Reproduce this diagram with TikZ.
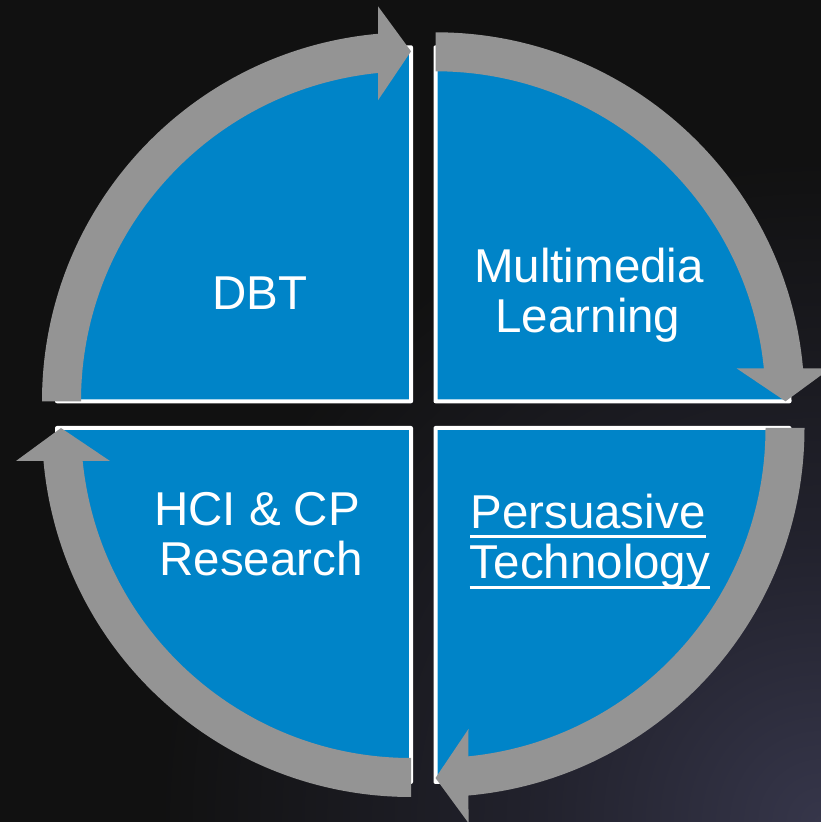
\documentclass[tikz,border=0pt]{standalone}
\usepackage{fontspec}
\setmainfont{Liberation Sans}

\definecolor{sectorblue}{RGB}{0,132,200}
\definecolor{ringgrey}{RGB}{148,148,148}
\definecolor{bgdark}{RGB}{17,17,17}
\definecolor{bgmid}{RGB}{34,34,45}
\definecolor{bgglow}{RGB}{54,54,74}

% soft glow rising from the lower right corner of the backdrop
\pgfdeclareradialshading{cornerglow}{\pgfpoint{0bp}{0bp}}{%
  color(0bp)=(bgglow); color(280bp)=(bgmid); color(660bp)=(bgdark); color(720bp)=(bgdark)}

\tikzset{
  sector/.style={fill=sectorblue, draw=white, line width=4pt, line join=round},
  sectortext/.style={text=white, font=\fontsize{47.5}{50}\selectfont, inner sep=0pt, anchor=base},
  underlinerule/.style={draw=white, line width=3pt},
  % grey curved arrow running a quarter turn clockwise round a sector corner
  quarterarrow/.pic={
    \fill[ringgrey] (180:369pt) arc[start angle=180, end angle=95.13, radius=369pt]
      -- (-33pt,395pt) -- (0pt,350pt) -- (-33pt,301pt)
      -- (95.72:330pt) arc[start angle=95.72, end angle=180, radius=330pt] -- cycle;
  }
}

\begin{document}
\begin{tikzpicture}[x=1pt,y=1pt]
\useasboundingbox (0,0) rectangle (821,822);
\begin{scope}
  \clip (0,0) rectangle (821,822);
  \fill[bgdark] (0,0) rectangle (821,822);
  \node[inner sep=0pt] (glow) at (821,0) {\pgfuseshading{cornerglow}};

  % corners of the four quarter sectors
  \coordinate (tl) at (411,420.7);
  \coordinate (tr) at (435.5,420.7);
  \coordinate (br) at (435.5,394);
  \coordinate (bl) at (411,394);

  \path[sector] (tl) -- ++(-354,0) arc[start angle=180, end angle=90, radius=354pt] -- cycle;
  \path[sector] (tr) -- ++(0,354) arc[start angle=90, end angle=0, radius=354pt] -- cycle;
  \path[sector] (br) -- ++(354,0) arc[start angle=0, end angle=-90, radius=354pt] -- cycle;
  \path[sector] (bl) -- ++(0,-354) arc[start angle=-90, end angle=-180, radius=354pt] -- cycle;

  \pic at (tl) {quarterarrow};
  \pic[rotate=-90] at (tr) {quarterarrow};
  \pic[rotate=-180] at (br) {quarterarrow};
  \pic[rotate=90] at (bl) {quarterarrow};

  \node[sectortext] (dbt) at (260,512) {DBT};
  \node[sectortext] (mm1) at (589,539) {Multimedia};
  \node[sectortext] (mm2) at (588,489) {Learning};
  \node[sectortext] (hci1) at (257,296) {HCI \& CP};
  \node[sectortext] (hci2) at (261,246) {Research};
  \node[sectortext] (pt1) at (588,293) {Persuasive};
  \node[sectortext] (pt2) at (590,243) {Technology};

  \path[underlinerule] ([yshift=-8pt]pt1.base west) -- ([yshift=-8pt]pt1.base east);
  \path[underlinerule] ([yshift=-9pt]pt2.base west) -- ([yshift=-9pt]pt2.base east);
\end{scope}
\end{tikzpicture}
\end{document}
